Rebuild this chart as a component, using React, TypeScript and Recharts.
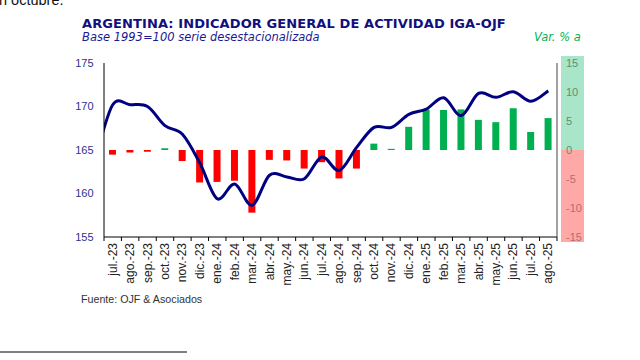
import React from 'react';
import { ComposedChart, Bar, Line, XAxis, YAxis, Cell } from 'recharts';

const months = [
  'jul.-23', 'ago.-23', 'sep.-23', 'oct.-23', 'nov.-23', 'dic.-23',
  'ene.-24', 'feb.-24', 'mar.-24', 'abr.-24', 'may.-24', 'jun.-24',
  'jul.-24', 'ago.-24', 'sep.-24', 'oct.-24', 'nov.-24', 'dic.-24',
  'ene.-25', 'feb.-25', 'mar.-25', 'abr.-25', 'may.-25', 'jun.-25',
  'jul.-25', 'ago.-25',
];

// Var. % a/a (right axis)
const varPct = [
  -0.8, -0.45, -0.3, 0.3, -1.9, -5.6,
  -5.5, -5.3, -10.8, -1.7, -1.8, -3.2,
  -2.1, -4.9, -3.2, 1.1, 0.2, 4.0,
  7.0, 6.9, 7.0, 5.2, 4.8, 7.2,
  3.1, 5.5,
];

// IGA-OJF index, base 1993=100 (left axis)
const igaIndex = [
  170.2, 170.2, 170.0, 167.8, 166.8, 163.5,
  159.4, 161.1, 158.65, 162.1, 161.9, 161.7,
  164.2, 162.65, 165.3, 167.6, 167.6, 169.1,
  169.7, 171.0, 168.95, 171.5, 171.05, 171.7,
  170.6, 171.8,
];

// jun.-23 value: the line enters the plot from the left edge
const priorMonthIndex = 164.0;

const leftTicks = [155, 160, 165, 170, 175];
const rightTicks = [-15, -10, -5, 0, 5, 10, 15];

const barData = months.map((m, i) => ({ m, pct: varPct[i] }));
const lineData = [
  { x: -1, v: priorMonthIndex },
  ...igaIndex.map((v, i) => ({ x: i, v })),
];

// Excel-like smoothed line (Catmull-Rom)
function smoothCurve(context: any) {
  let pts: number[][] = [];
  return {
    areaStart() {},
    areaEnd() {},
    lineStart() {
      pts = [];
    },
    point(x: number, y: number) {
      pts.push([+x, +y]);
    },
    lineEnd() {
      const n = pts.length;
      if (!n) return;
      context.moveTo(pts[0][0], pts[0][1]);
      if (n === 1) return;
      for (let i = 0; i < n - 1; i++) {
        const p0 = pts[i - 1] || pts[i];
        const p1 = pts[i];
        const p2 = pts[i + 1];
        const p3 = pts[i + 2] || p2;
        const t = 1 / 6;
        context.bezierCurveTo(
          p1[0] + (p2[0] - p0[0]) * t,
          p1[1] + (p2[1] - p0[1]) * t,
          p2[0] - (p3[0] - p1[0]) * t,
          p2[1] - (p3[1] - p1[1]) * t,
          p2[0],
          p2[1]
        );
      }
    },
  };
}

const FONT = '"Liberation Sans", Arial, sans-serif';

const XTick = (props: any) => {
  const { x, y, payload, index } = props;
  const off = payload && typeof payload.offset === 'number' && payload.offset > 0 ? payload.offset : 8.7;
  return (
    <g>
      <line x1={x - off} x2={x - off} y1={y - 6} y2={y - 2} stroke="#000" strokeWidth={1} />
      {index === months.length - 1 && (
        <line x1={x + off} x2={x + off} y1={y - 6} y2={y - 2} stroke="#000" strokeWidth={1} />
      )}
      <text
        transform={`translate(${x},${y}) rotate(-90)`}
        textAnchor="end"
        dominantBaseline="central"
        fontSize={12}
        fontFamily={FONT}
        fill="#222"
      >
        {payload.value}
      </text>
    </g>
  );
};

const RTick = (props: any) => {
  const { x, y, payload } = props;
  return (
    <text
      x={x}
      y={y}
      dy={4}
      textAnchor="start"
      fontSize={11}
      fontFamily={FONT}
      fill={payload.value >= 0 ? '#5f8f70' : '#b86b6b'}
    >
      {payload.value}
    </text>
  );
};

export default function App() {
  return (
    <div
      style={{
        position: 'fixed',
        left: 0,
        top: 0,
        width: 640,
        height: 360,
        background: '#fff',
        overflow: 'hidden',
        fontFamily: FONT,
      }}
    >
      <div style={{ position: 'absolute', left: 561, top: 56, width: 23, height: 94, background: '#a9e5c8' }} />
      <div style={{ position: 'absolute', left: 561, top: 150, width: 23, height: 92, background: '#ffa8a8' }} />
      <div style={{ position: 'absolute', left: 0, top: 0 }}>
        <ComposedChart
          width={640}
          height={360}
          data={barData}
          margin={{ top: 63, right: 43, bottom: 63, left: 64 }}
        >
          <XAxis
            xAxisId="cat"
            dataKey="m"
            interval={0}
            height={60}
            axisLine={{ stroke: '#000', strokeWidth: 1 }}
            tickLine={false}
            tickSize={4}
            tickMargin={2}
            tick={<XTick />}
          />
          <XAxis
            xAxisId="num"
            dataKey="x"
            type="number"
            orientation="top"
            domain={[-0.5, 25.5]}
            allowDataOverflow
            height={0}
            tick={false}
            tickLine={false}
            axisLine={{ stroke: '#444', strokeWidth: 1 }}
          />
          <YAxis
            yAxisId="left"
            domain={[155, 175]}
            ticks={leftTicks}
            width={40}
            axisLine={{ stroke: '#000', strokeWidth: 1 }}
            tickLine={false}
            tickSize={6}
            tickMargin={4.5}
            tick={{ fill: '#2e3192', fontSize: 11, fontFamily: FONT }}
          />
          <YAxis
            yAxisId="right"
            orientation="right"
            domain={[-15, 15]}
            ticks={rightTicks}
            width={40}
            axisLine={{ stroke: '#444', strokeWidth: 1 }}
            tickLine={false}
            tickSize={8}
            tickMargin={1}
            tick={<RTick />}
          />
          <Bar xAxisId="cat" yAxisId="right" dataKey="pct" barSize={7} isAnimationActive={false}>
            {barData.map((d, i) => (
              <Cell key={i} fill={d.pct >= 0 ? '#00b050' : '#ff0000'} />
            ))}
          </Bar>
          <Line
            xAxisId="num"
            yAxisId="left"
            data={lineData}
            dataKey="v"
            type={smoothCurve as any}
            stroke="#000080"
            strokeWidth={3}
            dot={false}
            activeDot={false}
            isAnimationActive={false}
          />
        </ComposedChart>
      </div>
      <svg width={640} height={360} style={{ position: 'absolute', left: 0, top: 0, pointerEvents: 'none' }}>
        <text x={-1} y={5} fontSize={14.5} fontFamily={FONT} fill="#111">
          n octubre.
        </text>
        <text
          x={82}
          y={28}
          fontSize={13}
          fontWeight="bold"
          letterSpacing={0.1}
          fontFamily='"DejaVu Sans", Verdana, sans-serif'
          fill="#10107f"
        >
          ARGENTINA: INDICADOR GENERAL DE ACTIVIDAD IGA-OJF
        </text>
        <text
          x={82}
          y={41}
          fontSize={11.5}
          fontStyle="italic"
          fontFamily='"DejaVu Sans", Verdana, sans-serif'
          fill="#1a1a90"
        >
          Base 1993=100 serie desestacionalizada
        </text>
        <text
          x={534}
          y={41}
          fontSize={11.5}
          fontStyle="italic"
          fontFamily='"DejaVu Sans", Verdana, sans-serif'
          fill="#00b050"
        >
          Var. % a
        </text>
        <text x={81} y={303} fontSize={10.7} fontFamily={FONT} fill="#333">
          Fuente: OJF &amp; Asociados
        </text>
        <line x1={0} x2={187} y1={352} y2={352} stroke="#000" strokeWidth={1} />
      </svg>
    </div>
  );
}
